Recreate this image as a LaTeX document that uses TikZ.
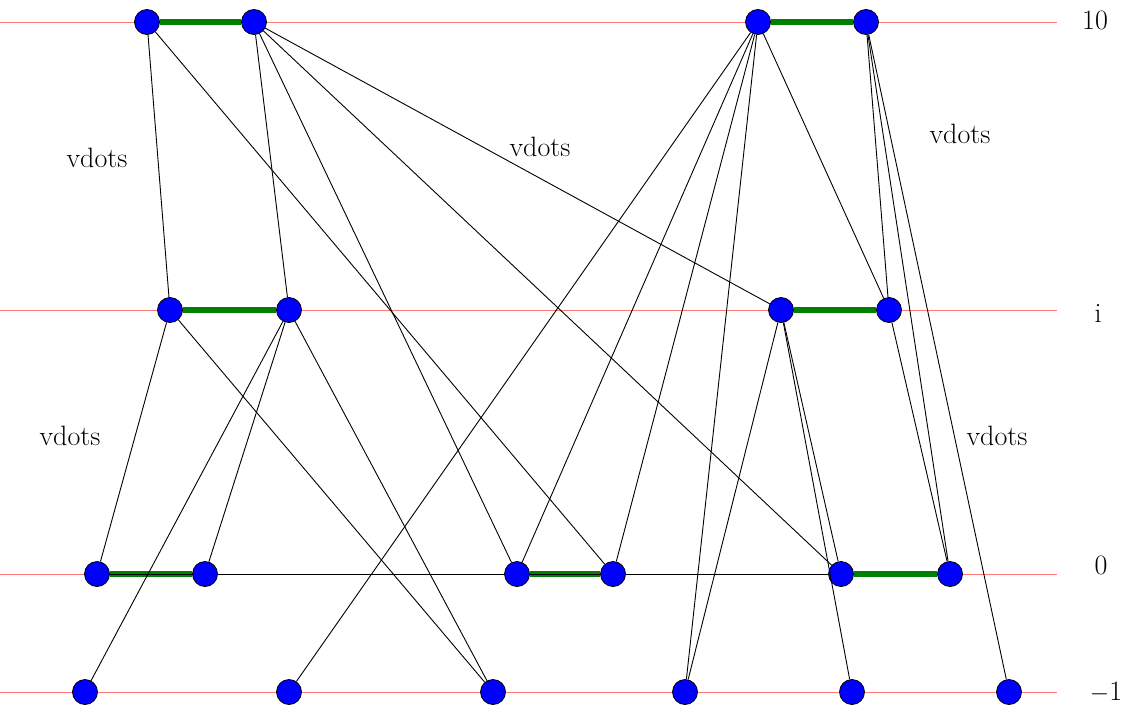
\documentclass[tikz,border=0pt]{standalone}
\begin{document}
\begin{tikzpicture}[x=1pt,y=-1pt,
  pt/.style={circle,fill=blue,draw=black,line width=0.8pt,minimum size=25pt,inner sep=0pt},
  level/.style={draw={rgb,255:red,255;green,120;blue,120},line width=0.8pt},
  edge/.style={draw=black,line width=0.9pt},
  pair/.style={draw={rgb,255:red,0;green,128;blue,0},line width=6pt},
  lab/.style={font=\fontsize{28}{34}\selectfont,inner sep=0pt}]
\useasboundingbox (0,0) rectangle (1129,709);
% level lines
\foreach \y in {22,310,574,692} \draw[level] (0,\y) -- (1057,\y);
% nodes
\node[pt] (A1) at (147,22) {};
\node[pt] (A2) at (254,22) {};
\node[pt] (A3) at (758,22) {};
\node[pt] (A4) at (866,22) {};
\node[pt] (B1) at (170,310) {};
\node[pt] (B2) at (289,310) {};
\node[pt] (B3) at (781,310) {};
\node[pt] (B4) at (889,310) {};
\node[pt] (C1) at (97,574) {};
\node[pt] (C2) at (205,574) {};
\node[pt] (C3) at (517,574) {};
\node[pt] (C4) at (613,574) {};
\node[pt] (C5) at (841,574) {};
\node[pt] (C6) at (950,574) {};
\node[pt] (D1) at (85,692) {};
\node[pt] (D2) at (289,692) {};
\node[pt] (D3) at (493,692) {};
\node[pt] (D4) at (685,692) {};
\node[pt] (D5) at (852,692) {};
\node[pt] (D6) at (1009,692) {};
% green pairs
\draw[pair] (A1) -- (A2);
\draw[pair] (A3) -- (A4);
\draw[pair] (B1) -- (B2);
\draw[pair] (B3) -- (B4);
\draw[pair] (C1) -- (C2);
\draw[pair] (C3) -- (C4);
\draw[pair] (C5) -- (C6);
% black edges
\draw[edge] (C1) -- (C2);
\draw[edge] (C2) -- (C3);
\draw[edge] (C3) -- (C4);
\draw[edge] (C4) -- (C5);
\draw[edge] (A1) -- (B1);
\draw[edge] (A1) -- (C4);
\draw[edge] (A2) -- (B2);
\draw[edge] (A2) -- (C3);
\draw[edge] (A2) -- (C5);
\draw[edge] (A2) -- (B3);
\draw[edge] (A3) -- (D2);
\draw[edge] (A3) -- (C3);
\draw[edge] (A3) -- (C4);
\draw[edge] (A3) -- (D4);
\draw[edge] (A3) -- (B4);
\draw[edge] (A4) -- (B4);
\draw[edge] (A4) -- (C6);
\draw[edge] (A4) -- (D6);
\draw[edge] (B1) -- (C1);
\draw[edge] (B1) -- (D3);
\draw[edge] (B2) -- (C2);
\draw[edge] (B2) -- (D1);
\draw[edge] (B2) -- (D3);
\draw[edge] (B3) -- (D4);
\draw[edge] (B3) -- (C5);
\draw[edge] (B3) -- (D5);
\draw[edge] (B4) -- (C6);
% labels
\node[lab] (l10) at (1095,20) {10};
\node[lab] (li) at (1098,313) {i};
\node[lab] (l0) at (1101,565) {0};
\node[lab] (lm1) at (1106,692) {$-$1};
\node[lab] (v1) at (97,158) {vdots};
\node[lab] (v2) at (540,147) {vdots};
\node[lab] (v3) at (960,134) {vdots};
\node[lab] (v4) at (70,436) {vdots};
\node[lab] (v5) at (997,436) {vdots};
\end{tikzpicture}
\end{document}
